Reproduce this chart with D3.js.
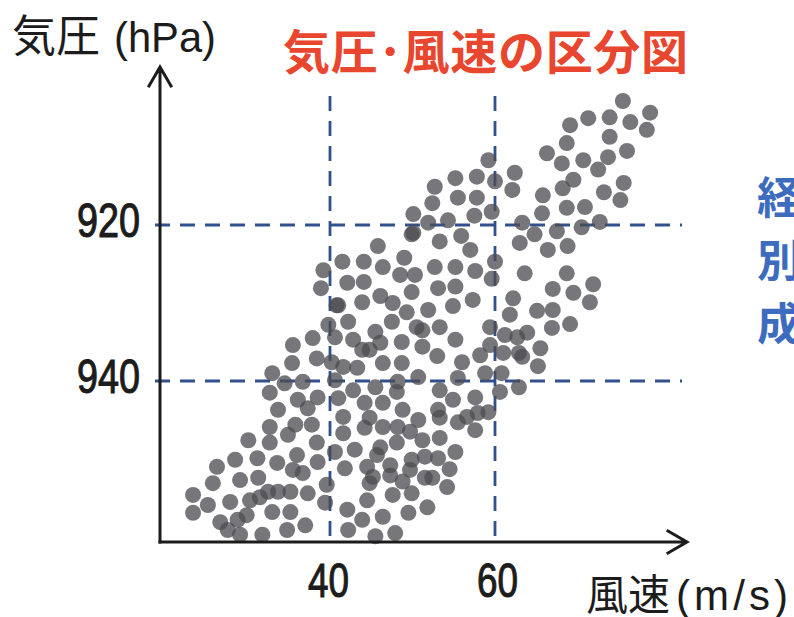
<!DOCTYPE html>
<html>
<head>
<meta charset="utf-8">
<script src="https://cdn.jsdelivr.net/npm/d3@7"></script>
<style>
  body { margin: 0; background: #fff; }
  svg { display: block; }
</style>
</head>
<body>
<svg id="chart"></svg>
<script>
// pressure / wind speed scatter with the 40, 60 m/s and 920, 940 hPa dividers

const svgWidth = 794;
const svgHeight = 617;

// wind speed (m/s), one per dot
const windSpeed = [
  40.8, 38.4, 35.4, 40.2, 33.0, 34.5, 36.7, 40.6, 32.7, 36.1, 38.5, 37.3, 41.0, 33.7,
  35.8, 37.8, 32.7, 30.1, 32.7, 34.9, 38.4, 40.6, 36.0, 28.5, 31.2, 33.6, 38.5, 26.3,
  35.5, 36.7, 29.1, 31.3, 25.8, 32.5, 33.7, 30.3, 31.5, 35.2, 37.3, 23.4, 27.9, 25.2,
  39.6, 39.4, 23.4, 29.9, 28.8, 33.0, 35.2, 26.7, 27.6, 31.8, 34.8, 37.0, 29.1,
  45.8, 41.5, 44.1, 46.4, 49.0, 39.2, 42.1, 44.1, 48.5, 38.9, 41.0, 43.9, 46.1, 47.6,
  49.3, 42.2, 39.8, 47.5, 40.6, 37.9, 35.5, 42.8, 45.5, 46.1, 48.7,
  49.9, 53.3, 55.9, 57.0, 50.3, 52.7, 55.2, 57.6, 60.0, 59.6, 49.9, 53.1, 55.2, 51.9,
  54.9, 57.3, 50.5, 51.2, 53.3, 59.4, 43.9, 44.8, 51.2, 55.2, 59.4, 58.2, 53.0, 61.0,
  41.6, 43.3, 46.4, 48.7, 56.0, 58.8, 60.8, 48.2, 50.7, 55.5, 42.8, 45.5, 48.1, 53.3,
  60.6, 54.9, 44.2, 46.4, 41.6, 44.8, 48.8, 50.7, 53.1, 53.3, 57.6, 56.6, 55.5, 57.9,
  59.2, 44.2, 46.4, 48.2, 49.7, 57.6, 41.6, 51.2, 53.3, 46.1, 48.1, 43.0, 45.7, 49.9,
  51.5, 53.1, 55.2, 41.8, 44.5, 47.3, 49.7, 48.8, 51.5, 52.4, 54.5, 45.2, 47.3, 44.8,
  47.6, 49.9, 54.2, 44.5, 42.1, 43.9, 46.4, 49.5, 51.8, 42.2, 45.5, 47.9,
  61.2, 62.7, 63.9, 66.9, 69.1, 62.9, 63.3, 65.5, 65.2, 62.9,
  75.5, 78.8, 71.3, 73.9, 76.4, 69.1, 78.4, 73.9, 68.7, 76.0, 66.3, 73.7, 68.1, 70.7,
  59.2, 72.5, 62.4, 60.0, 69.5, 52.7, 55.2, 57.8, 62.1, 68.2, 75.6, 73.2, 75.2, 65.8,
  52.4, 55.5, 57.8, 68.7, 70.9, 50.1, 59.6, 57.5, 65.7, 51.9, 54.3, 72.7, 63.3, 70.5,
  50.1, 64.8, 67.5, 63.0, 66.4, 68.8, 63.6, 68.7, 67.0, 69.5, 71.9, 62.2, 71.5, 65.1,
  67.0, 61.8
];

// central pressure (hPa), same order as windSpeed
const pressure = [
  930.3, 937.1, 937.7, 937.6, 939.0, 940.3, 940.1, 939.9, 941.5, 942.4, 942.1, 943.5, 942.2, 943.7,
  945.6, 945.6, 945.9, 947.6, 947.9, 946.9, 947.9, 949.1, 949.5, 950.1, 949.9, 950.5, 950.4, 951.0,
  951.4, 951.8, 952.7, 952.4, 953.1, 954.2, 954.2, 955.3, 954.9, 954.2, 954.4, 954.6, 955.5, 955.9,
  953.3, 955.6, 956.9, 957.2, 957.8, 956.8, 956.8, 958.1, 959.1, 959.7, 959.1, 958.5, 959.7,
  922.7, 924.7, 924.7, 925.4, 924.2, 925.8, 927.4, 927.3, 926.4, 928.1, 930.3, 929.9, 929.1, 930.0,
  931.2, 932.4, 932.8, 932.4, 934.4, 934.5, 935.4, 934.7, 933.7, 935.1, 935.0,
  921.2, 922.1, 921.4, 923.2, 926.4, 925.4, 925.4, 925.9, 924.7, 926.9, 928.6, 928.1, 927.9, 930.9,
  930.4, 929.6, 933.1, 933.5, 933.1, 933.1, 936.0, 936.0, 935.6, 934.7, 935.4, 936.7, 936.8, 936.4,
  938.2, 938.3, 937.7, 937.7, 937.6, 939.0, 939.0, 940.1, 939.5, 939.6, 941.2, 940.8, 941.4, 941.2,
  941.4, 942.4, 942.8, 942.8, 944.6, 944.7, 943.7, 945.0, 943.7, 944.7, 942.1, 944.6, 945.3, 944.1,
  944.0, 946.0, 945.9, 945.9, 946.5, 946.3, 946.7, 947.6, 947.3, 948.5, 947.9, 948.8, 949.5, 950.1,
  949.7, 949.9, 949.1, 951.2, 951.0, 950.8, 951.4, 952.9, 952.4, 952.4, 951.3, 952.3, 952.1, 953.1,
  954.6, 954.4, 953.6, 955.3, 956.5, 957.8, 957.4, 956.9, 956.2, 959.1, 959.9, 959.5,
  934.1, 934.4, 933.8, 933.2, 932.7, 936.4, 936.9, 935.8, 938.1, 940.8,
  904.1, 905.6, 906.3, 906.2, 906.8, 907.2, 907.8, 908.7, 909.5, 910.5, 910.8, 911.3, 912.1, 911.7,
  911.7, 912.9, 913.3, 914.4, 914.2, 915.1, 914.0, 913.8, 915.5, 915.3, 914.6, 915.8, 916.8, 916.2,
  917.2, 916.5, 916.5, 917.8, 917.7, 918.6, 918.3, 918.8, 918.5, 919.7, 919.4, 919.6, 919.7, 920.3,
  921.0, 921.2, 920.8, 922.3, 923.2, 922.7, 926.2, 926.2, 928.2, 928.7, 927.6, 929.4, 929.9, 931.0,
  930.9, 931.5
];

const speedTicks = [40, 60];
const pressureTicks = [920, 940];

const titleText = "気圧･風速の区分図";
const yTitle = ["気圧", "(hPa)"];
const xTitle = ["風速", "(m/s)"];
const sideText = ["経", "別", "成"];

const axisX = 160;
const axisY = 542;
const cjk = "'Noto Sans CJK JP', 'Noto Sans', sans-serif";
const latin = "'Liberation Sans', Arial, sans-serif";

const xScale = d3.scaleLinear().domain([40, 60]).range([330, 495]);
const yScale = d3.scaleLinear().domain([920, 940]).range([225, 381]);

const dots = windSpeed.map((v, i) => ({ speed: v, hpa: pressure[i] }));

function drawChart() {
    const svg = d3.select("#chart")
        .attr("width", svgWidth)
        .attr("height", svgHeight);

    // dividers
    svg.append("g")
        .selectAll("line")
        .data(speedTicks)
        .join("line")
        .attr("x1", d => xScale(d))
        .attr("x2", d => xScale(d))
        .attr("y1", 96)
        .attr("y2", axisY)
        .attr("stroke", "#30518c")
        .attr("stroke-width", 2.8)
        .attr("stroke-dasharray", "15 10");

    svg.append("g")
        .selectAll("line")
        .data(pressureTicks)
        .join("line")
        .attr("x1", 155)
        .attr("x2", 682)
        .attr("y1", d => yScale(d))
        .attr("y2", d => yScale(d))
        .attr("stroke", "#30518c")
        .attr("stroke-width", 2.8)
        .attr("stroke-dasharray", "15 10");

    // dots
    svg.append("g")
        .selectAll("circle")
        .data(dots)
        .join("circle")
        .attr("cx", d => xScale(d.speed))
        .attr("cy", d => yScale(d.hpa))
        .attr("r", 8)
        .attr("fill", "#4c4c52")
        .attr("fill-opacity", 0.76);

    // axes with open arrow heads
    const ax = svg.append("g")
        .attr("fill", "none")
        .attr("stroke", "#1c1c1c")
        .attr("stroke-width", 3)
        .attr("stroke-linecap", "square");

    ax.append("path").attr("d", `M${axisX},${axisY} V69 M${axisX - 11},86 L${axisX},67 L${axisX + 11},86`);
    ax.append("path").attr("d", `M${axisX},${axisY} H685 M668,531 L687,${axisY} L668,553`);

    // tick labels, squeezed like a condensed face
    svg.append("g")
        .selectAll("text")
        .data(pressureTicks)
        .join("text")
        .attr("x", 77)
        .attr("y", d => yScale(d) + 12)
        .attr("font-family", latin)
        .attr("font-size", 48)
        .attr("textLength", 63)
        .attr("lengthAdjust", "spacingAndGlyphs")
        .attr("fill", "#1c1c1c")
        .attr("stroke", "#1c1c1c")
        .attr("stroke-width", 1.1)
        .text(d => d);

    svg.append("g")
        .selectAll("text")
        .data(speedTicks)
        .join("text")
        .attr("x", d => xScale(d) + (d === 40 ? -22 : -18))
        .attr("y", 597)
        .attr("font-family", latin)
        .attr("font-size", 48)
        .attr("textLength", 41)
        .attr("lengthAdjust", "spacingAndGlyphs")
        .attr("fill", "#1c1c1c")
        .attr("stroke", "#1c1c1c")
        .attr("stroke-width", 1.1)
        .text(d => d);

    // axis titles
    svg.append("text")
        .attr("x", 12).attr("y", 52)
        .attr("font-family", cjk).attr("font-size", 44)
        .attr("fill", "#1c1c1c")
        .text(yTitle[0]);
    svg.append("text")
        .attr("x", 114).attr("y", 52)
        .attr("font-family", latin).attr("font-size", 42)
        .attr("textLength", 102).attr("lengthAdjust", "spacingAndGlyphs")
        .attr("fill", "#1c1c1c")
        .text(yTitle[1]);

    svg.append("text")
        .attr("x", 586).attr("y", 610)
        .attr("font-family", cjk).attr("font-size", 42)
        .attr("fill", "#1c1c1c")
        .text(xTitle[0]);
    svg.append("text")
        .attr("x", 676).attr("y", 610)
        .attr("font-family", latin).attr("font-size", 42)
        .attr("textLength", 112).attr("lengthAdjust", "spacing")
        .attr("fill", "#1c1c1c")
        .text(xTitle[1]);

    // title
    svg.append("text")
        .attr("x", 283)
        .attr("y", 69)
        .attr("font-family", cjk)
        .attr("font-weight", "bold")
        .attr("font-size", 47)
        .attr("textLength", 405)
        .attr("lengthAdjust", "spacing")
        .attr("fill", "#e8462f")
        .text(titleText);

    // side caption, cut off at the right edge as in the source
    svg.append("g")
        .selectAll("text")
        .data(sideText)
        .join("text")
        .attr("x", 757)
        .attr("y", (d, i) => 214 + i * 63)
        .attr("font-family", cjk)
        .attr("font-weight", "bold")
        .attr("font-size", 44)
        .attr("fill", "#3d6cbf")
        .text(d => d);
}

document.addEventListener("DOMContentLoaded", drawChart);
</script>
</body>
</html>
